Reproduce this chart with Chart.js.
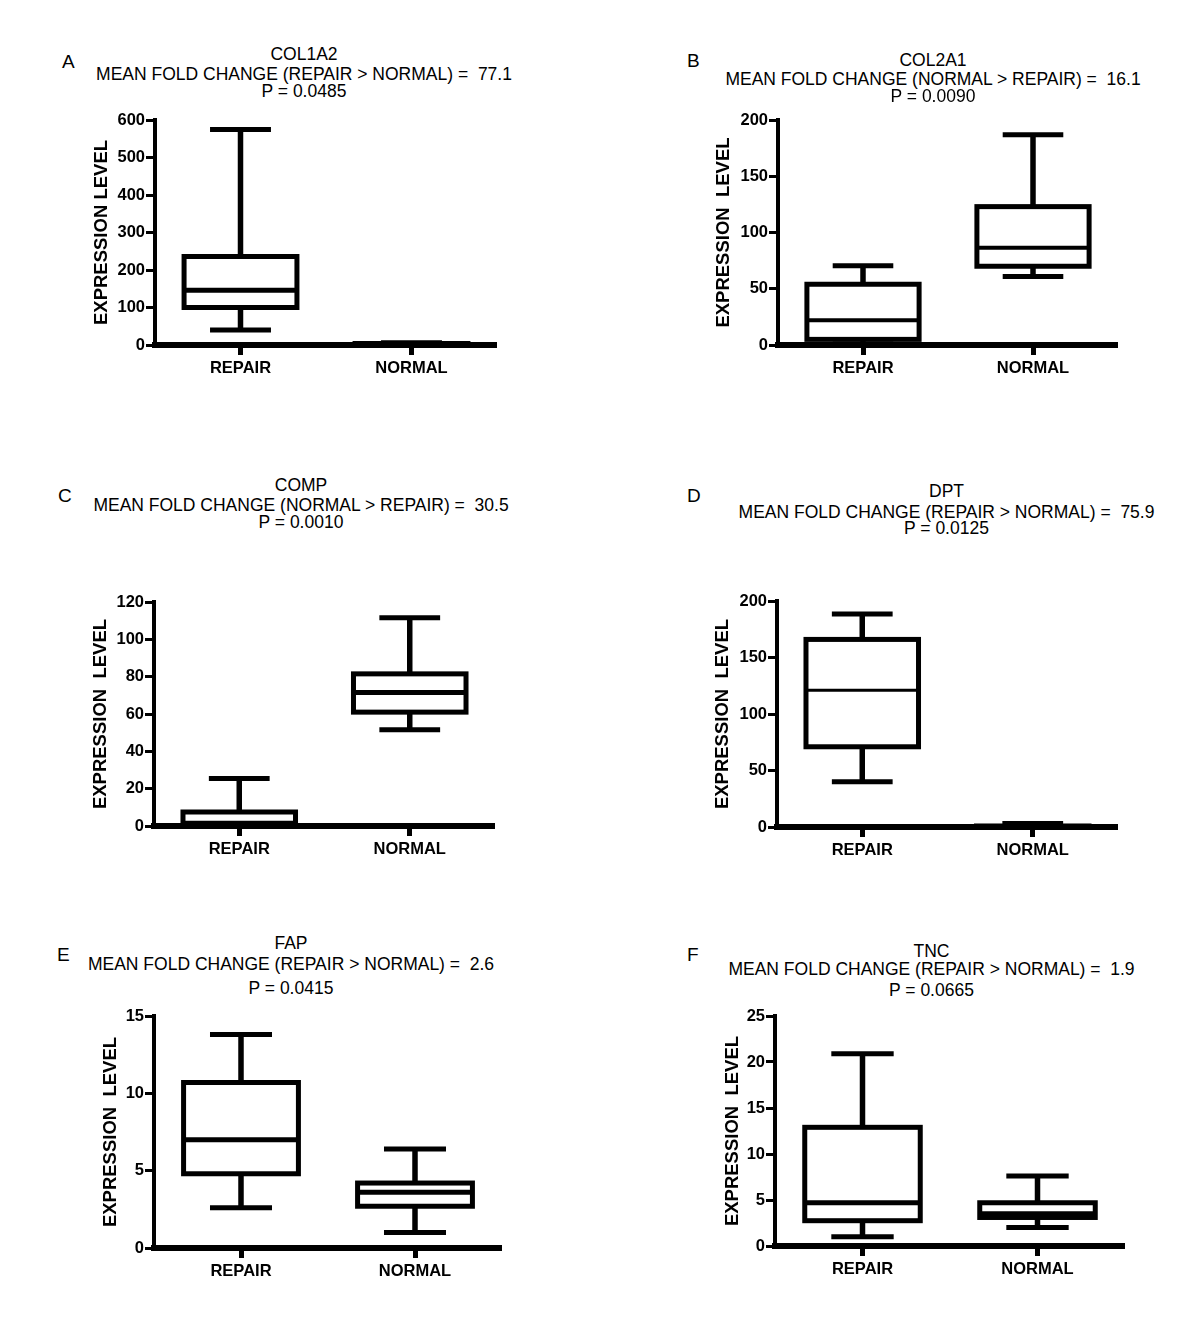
<!DOCTYPE html>
<html><head><meta charset="utf-8">
<script src="https://cdn.jsdelivr.net/npm/chart.js@4.4.1/dist/chart.umd.min.js"></script>
<style>
html,body{margin:0;padding:0;background:#fff;}
body{width:1200px;height:1341px;position:relative;overflow:hidden;font-family:"Liberation Sans",Arial,sans-serif;}
canvas{position:absolute;}
.t{position:absolute;white-space:pre;font-size:17.5px;line-height:1;color:#000;transform:translateX(-50%);}
.l{position:absolute;font-size:19px;line-height:1;color:#000;}
</style></head><body>
<script>
// ---------- data ----------
const categories = ['REPAIR', 'NORMAL'];
const panelLetters = ['A', 'B', 'C', 'D', 'E', 'F'];
const genes = ['COL1A2', 'COL2A1', 'COMP', 'DPT', 'FAP', 'TNC'];
const comparisons = ['REPAIR > NORMAL', 'NORMAL > REPAIR', 'NORMAL > REPAIR', 'REPAIR > NORMAL', 'REPAIR > NORMAL', 'REPAIR > NORMAL'];
const foldChanges = ['77.1', '16.1', '30.5', '75.9', '2.6', '1.9'];
const pValues = ['0.0485', '0.0090', '0.0010', '0.0125', '0.0415', '0.0665'];
const yAxisTitles = ['EXPRESSION LEVEL', 'EXPRESSION  LEVEL', 'EXPRESSION  LEVEL', 'EXPRESSION  LEVEL', 'EXPRESSION  LEVEL', 'EXPRESSION  LEVEL'];
const yMax = [600, 200, 120, 200, 15, 25];
const yStep = [100, 50, 20, 50, 5, 5];
// each entry: [REPAIR, NORMAL]
const whiskerLow  = [[40, 0.5], [1, 61],    [0.2, 51.5],  [40, 0.1],    [2.6, 1.0],  [1.0, 2.0]];
const quartile1   = [[100, 1.5], [5, 70],   [0.5, 61],    [71, 0.3],    [4.8, 2.7],  [2.75, 3.1]];
const medians     = [[146, 2.5], [22, 86.5],[1.5, 71.5],  [121, 0.5],   [7.0, 3.6],  [4.7, 3.5]];
const quartile3   = [[236, 4],  [54, 123],  [7.5, 81.5],  [166, 0.9],   [10.7, 4.2], [12.9, 4.7]];
const whiskerHigh = [[575, 6],  [70.5, 187],[25.5, 111.5],[188.5, 3.0], [13.8, 6.4], [20.9, 7.6]];

// ---------- layout / style ----------
const panelLayout = [
  {x0:155, x1:497,  top:120,  bottom:345,  titleX:304,   titleY:[54.5, 74.5, 92],  letterX:62,  letterY:61,  yTitleGap:53, medW:5},
  {x0:778, x1:1118, top:120,  bottom:345,  titleX:933,   titleY:[60.5, 79.5, 96.5],letterX:687, letterY:60,  yTitleGap:54, medW:4},
  {x0:154, x1:495,  top:602,  bottom:826,  titleX:301,   titleY:[486, 506, 523],   letterX:58,  letterY:495, yTitleGap:53.5, medW:5},
  {x0:777, x1:1118, top:601,  bottom:827,  titleX:946.5, titleY:[491.5, 512.5, 528.5], letterX:687, letterY:495, yTitleGap:54.5, medW:3},
  {x0:154, x1:502,  top:1016, bottom:1248, titleX:291,   titleY:[944, 965, 989],   letterX:57,  letterY:954, yTitleGap:43.5, medW:5},
  {x0:775, x1:1125, top:1016, bottom:1246, titleX:931.5, titleY:[952, 970, 991],   letterX:687, letterY:954, yTitleGap:42.5, medW:5}
];

Chart.defaults.font.family = '"Liberation Sans", Arial, sans-serif';
Chart.defaults.color = '#000';

function addText(cls, txt, x, y, size) {
  const d = document.createElement('div');
  d.className = cls;
  d.textContent = txt;
  d.style.left = x + 'px';
  d.style.top = (y - 0.49 * size) + 'px';
  document.body.appendChild(d);
}

function boxPlugin(p, medW) {
  return {
    id: 'boxplot' + p,
    afterDatasetsDraw(chart) {
      const ctx = chart.ctx, ys = chart.scales.y, meta = chart.getDatasetMeta(0);
      ctx.save();
      ctx.strokeStyle = '#000';
      ctx.lineCap = 'butt';
      ctx.lineJoin = 'miter';
      const seg = (a, b, c, d) => { ctx.beginPath(); ctx.moveTo(a, b); ctx.lineTo(c, d); ctx.stroke(); };
      meta.data.forEach((bar, i) => {
        const {x, width, y, base} = bar.getProps(['x', 'width', 'y', 'base'], true);
        const half = width / 2, capHalf = width * 0.27;
        const pLow = ys.getPixelForValue(whiskerLow[p][i]);
        const pHigh = ys.getPixelForValue(whiskerHigh[p][i]);
        const pMed = ys.getPixelForValue(medians[p][i]);
        const top = Math.min(y, base), bot = Math.max(y, base);
        ctx.lineWidth = 5.5;
        seg(x, top, x, pHigh);
        seg(x, bot, x, pLow);
        ctx.lineWidth = 5;
        seg(x - capHalf, pHigh, x + capHalf, pHigh);
        seg(x - capHalf, pLow, x + capHalf, pLow);
        ctx.strokeRect(x - half, top, width, bot - top);
        ctx.lineWidth = medW;
        seg(x - half, pMed, x + half, pMed);
      });
      ctx.restore();
    }
  };
}

panelLayout.forEach((L, p) => {
  const padTop = 15, yW = 70, xH = 50;
  const w = yW + (L.x1 - L.x0), h = padTop + (L.bottom - L.top) + xH;
  const cv = document.createElement('canvas');
  cv.width = w; cv.height = h;
  cv.style.left = (L.x0 - yW) + 'px';
  cv.style.top = (L.top - padTop) + 'px';
  cv.style.width = w + 'px'; cv.style.height = h + 'px';
  document.body.appendChild(cv);

  const titleFont = 18.5, titleLH = titleFont * 1.2;
  const titlePad = yW - L.yTitleGap - titleLH / 2;

  new Chart(cv, {
    type: 'bar',
    data: {
      labels: categories,
      datasets: [{
        data: categories.map((c, i) => [quartile1[p][i], quartile3[p][i]]),
        backgroundColor: 'rgba(0,0,0,0)',
        borderWidth: 0,
        barPercentage: 0.66,
        categoryPercentage: 1
      }]
    },
    options: {
      responsive: false,
      animation: false,
      devicePixelRatio: 1,
      events: [],
      layout: {padding: {top: padTop, left: 0, right: 0, bottom: 0}},
      plugins: {legend: {display: false}, tooltip: {enabled: false}},
      scales: {
        x: {
          offset: true,
          grid: {display: true, drawOnChartArea: false, offset: false, drawTicks: true, tickLength: 10, tickWidth: 5, tickColor: '#000'},
          border: {display: true, width: 6, color: '#000'},
          ticks: {color: '#000', font: {size: 16.5, weight: 'bold'}, padding: 4, maxRotation: 0, autoSkip: false},
          afterFit(s) { s.height = xH; }
        },
        y: {
          min: 0, max: yMax[p],
          ticks: {stepSize: yStep[p], color: '#000', font: {size: 16.5, weight: 'bold'}, padding: 1},
          grid: {display: true, drawOnChartArea: false, drawTicks: true, tickLength: 9, tickWidth: 3, tickColor: '#000'},
          border: {display: true, width: 4, color: '#000'},
          title: {display: true, text: yAxisTitles[p], color: '#000', font: {size: titleFont, weight: 'bold', lineHeight: 1.2}, padding: {top: titlePad, bottom: 0}},
          afterFit(s) { s.width = yW; }
        }
      }
    },
    plugins: [boxPlugin(p, L.medW)]
  });

  addText('l', panelLetters[p], L.letterX, L.letterY, 19);
  addText('t', genes[p], L.titleX, L.titleY[0], 17.5);
  addText('t', 'MEAN FOLD CHANGE (' + comparisons[p] + ') =  ' + foldChanges[p], L.titleX, L.titleY[1], 17.5);
  addText('t', 'P = ' + pValues[p], L.titleX, L.titleY[2], 17.5);
});
</script>
</body></html>
